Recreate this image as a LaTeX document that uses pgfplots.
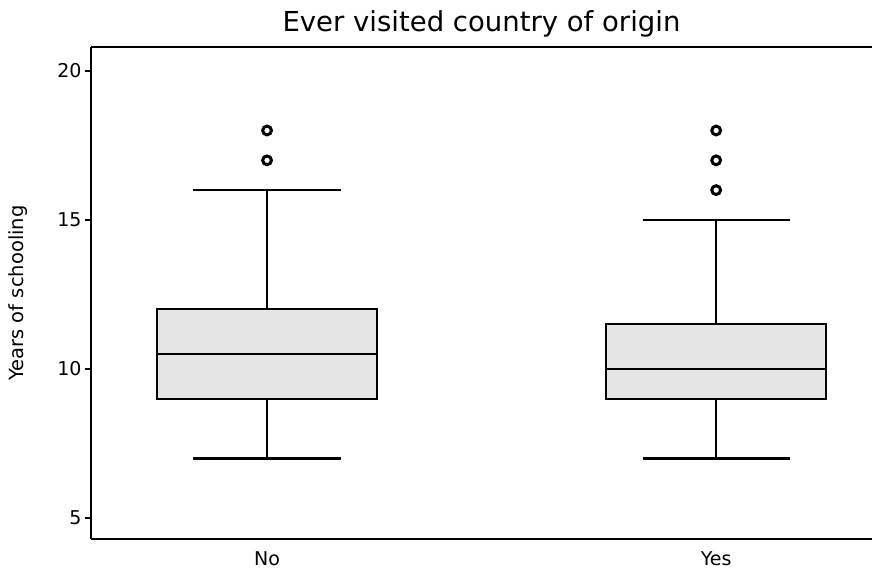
\documentclass[border=0pt]{standalone}
\usepackage{pgfplots}
\pgfplotsset{compat=1.18}
\usepackage{fontspec}
\setmainfont{DejaVu Sans}
\definecolor{boxfill}{HTML}{E5E5E5}
\begin{document}
\begin{tikzpicture}
\path[use as bounding box] (-91pt,-33pt) rectangle (781pt,539pt);
\begin{axis}[
  at={(0pt,0pt)}, anchor=south west,
  scale only axis, width=781pt, height=492pt,
  xmin=-0.392, xmax=1.347,
  ymin=4.30, ymax=20.8,
  axis y line*=left, axis x line*=bottom,
  axis line style={line width=2.2pt, -},
  xtick={0,1}, xticklabels={No,Yes},
  xtick style={draw=none},
  ytick={5,10,15,20},
  ytick style={line width=1.8pt, black},
  tick align=outside, major tick length=6pt,
  /pgf/number format/assume math mode=true,
  tick label style={font=\fontsize{19}{22}\selectfont},
  xticklabel style={anchor=center, yshift=-14pt},
  ylabel={Years of schooling},
  ylabel style={font=\fontsize{19.5}{22}\selectfont, at={(axis description cs:0,0.5)}, anchor=center, yshift=73pt},
  title={Ever visited country of origin},
  title style={font=\fontsize{27.5}{32}\selectfont, at={(axis description cs:0.5,1)}, anchor=center, yshift=17pt},
  clip=false,
]
% No: box (Q1=9, median=10.5, Q3=12), whiskers 7 and 16
\addplot[draw=black, line width=2.1pt, fill=boxfill] coordinates {(-0.245,9) (0.245,9) (0.245,12) (-0.245,12)} --cycle;
\addplot[black, line width=2.1pt] coordinates {(-0.245,10.5) (0.245,10.5)};
\addplot[black, line width=2.1pt] coordinates {(0,12) (0,16)};
\addplot[black, line width=2.1pt] coordinates {(0,9) (0,7)};
\addplot[black, line width=2.1pt] coordinates {(-0.164,16) (0.164,16)};
\addplot[black, line width=2.1pt] coordinates {(-0.164,7) (0.164,7)};
\addplot[only marks, mark=o, mark size=4.4pt, mark options={draw=black, line width=3pt, fill=white}] coordinates {(0,17) (0,18)};
% Yes: box (Q1=9, median=10, Q3=11.5), whiskers 7 and 15
\addplot[draw=black, line width=2.1pt, fill=boxfill] coordinates {(0.755,9) (1.245,9) (1.245,11.5) (0.755,11.5)} --cycle;
\addplot[black, line width=2.1pt] coordinates {(0.755,10) (1.245,10)};
\addplot[black, line width=2.1pt] coordinates {(1,11.5) (1,15)};
\addplot[black, line width=2.1pt] coordinates {(1,9) (1,7)};
\addplot[black, line width=2.1pt] coordinates {(0.836,15) (1.164,15)};
\addplot[black, line width=2.1pt] coordinates {(0.836,7) (1.164,7)};
\addplot[only marks, mark=o, mark size=4.4pt, mark options={draw=black, line width=3pt, fill=white}] coordinates {(1,16) (1,17) (1,18)};
\draw[line width=2.2pt] (rel axis cs:0,1) -- (rel axis cs:1,1);
\end{axis}
\end{tikzpicture}
\end{document}
